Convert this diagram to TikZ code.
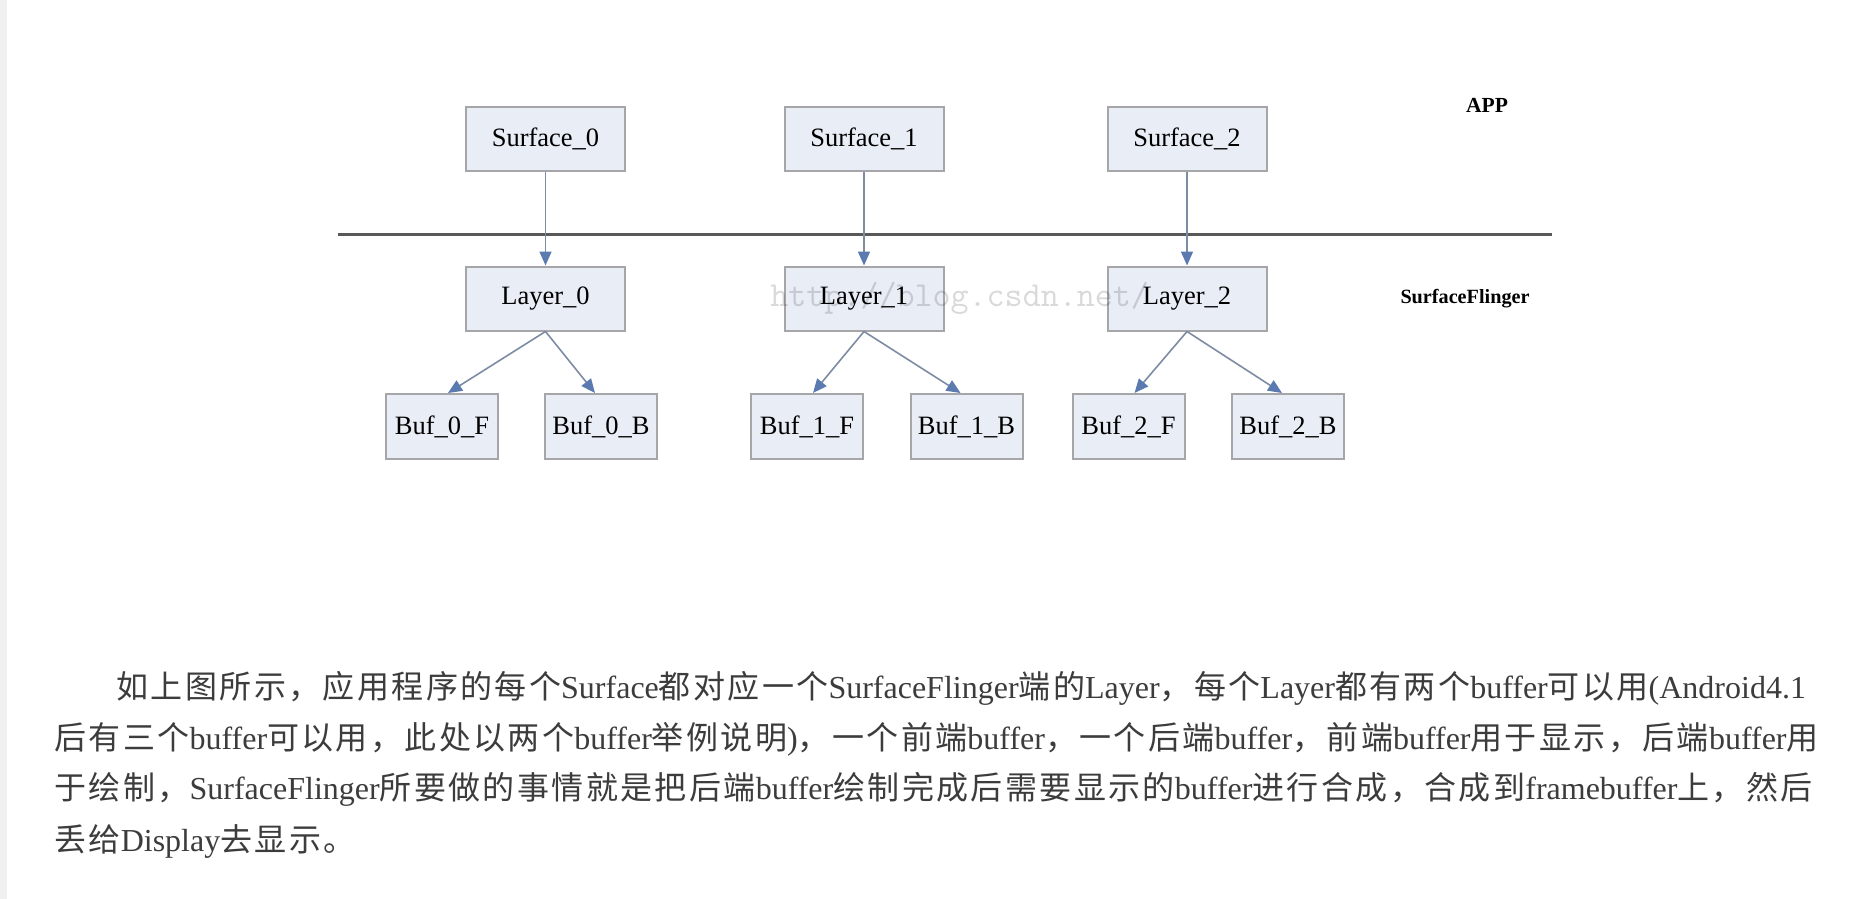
\documentclass[tikz,border=0pt]{standalone}
\usepackage{fontspec}
\setmainfont{Liberation Serif}
\setmonofont{Latin Modern Mono}
\newfontfamily\cjk[LetterSpace=7.5]{Noto Sans CJK SC}
\usetikzlibrary{arrows.meta}
\definecolor{boxfill}{HTML}{E9EDF6}
\definecolor{boxline}{HTML}{A6A6A8}
\definecolor{flowline}{HTML}{7D8CA3}
\definecolor{flowtip}{HTML}{5A7AB0}
\definecolor{bodytext}{HTML}{3C3C3C}
\newcommand{\zh}[1]{{\cjk #1}}

\tikzset{
  layerbox/.style={draw=boxline, line width=1pt, fill=boxfill, inner sep=0pt,
    minimum width=79.5pt, minimum height=32pt, font=\fontsize{13.25}{15}\selectfont},
  bufbox/.style={layerbox, minimum width=56pt, minimum height=32.5pt},
  flow/.style={draw=flowline, line width=0.8pt,
    -{Triangle[length=7pt,width=6pt,color=flowtip,fill=flowtip]}},
  sidelabel/.style={font=\bfseries\fontsize{10.75}{12}\selectfont},
  textline/.style={anchor=west, inner sep=0pt, text=bodytext, font=\fontsize{16}{18}\selectfont}
}

\begin{document}
\begin{tikzpicture}[x=0.5pt,y=-0.5pt]
  \useasboundingbox[fill=white] (0,0) rectangle (1868,899);
  \fill[black!6] (0,0) rectangle (7,899);

  % APP / SurfaceFlinger boundary
  \draw[black!65, line width=1.5pt] (338,234) -- (1552,234);
  \node[sidelabel] (app) at (1487,105) {APP};
  \node[sidelabel, font=\bfseries\fontsize{10.1}{12}\selectfont] (sf) at (1465,299) {SurfaceFlinger};

  % one column per surface
  \foreach \i/\x/\bf/\bb in {0/545.5/442/601, 1/864/807/966.5, 2/1187/1128.5/1288}{
    \node[layerbox] (s\i) at (\x,139) {Surface\_\i};
    \node[layerbox] (l\i) at (\x,298.5) {Layer\_\i};
    \node[bufbox] (b\i f) at (\bf,426.5) {Buf\_\i\_F};
    \node[bufbox] (b\i b) at (\bb,426.5) {Buf\_\i\_B};
    \draw[flow] (s\i.south) -- (l\i.north);
    \draw[flow] (l\i.south) -- ([xshift=3pt]b\i f.north);
    \draw[flow] (l\i.south) -- ([xshift=-3pt]b\i b.north);
  }

  % watermark
  \node[anchor=west, inner sep=0pt, text=black, opacity=0.15,
    font=\ttfamily\fontsize{17.5}{18}\selectfont] (mark) at (770,298) {http://blog.csdn.net/};

  % text below the figure
  \node[textline] (t1) at (116,688) {\zh{如上图所示，应用程序的每个}Surface\zh{都对应一个}SurfaceFlinger\zh{端的}Layer\zh{，每个}Layer\zh{都有两个}buffer\zh{可以用}(Android4.1};
  \node[textline] (t2) at (54,739) {\zh{后有三个}buffer\zh{可以用，此处以两个}buffer\zh{举例说明})\zh{，一个前端}buffer\zh{，一个后端}buffer\zh{，前端}buffer\zh{用于显示，后端}buffer\zh{用}};
  \node[textline] (t3) at (54,789) {\zh{于绘制，}SurfaceFlinger\zh{所要做的事情就是把后端}buffer\zh{绘制完成后需要显示的}buffer\zh{进行合成，合成到}framebuffer\zh{上，然后}};
  \node[textline] (t4) at (54,841) {\zh{丢给}Display\zh{去显示。}};
\end{tikzpicture}
\end{document}
